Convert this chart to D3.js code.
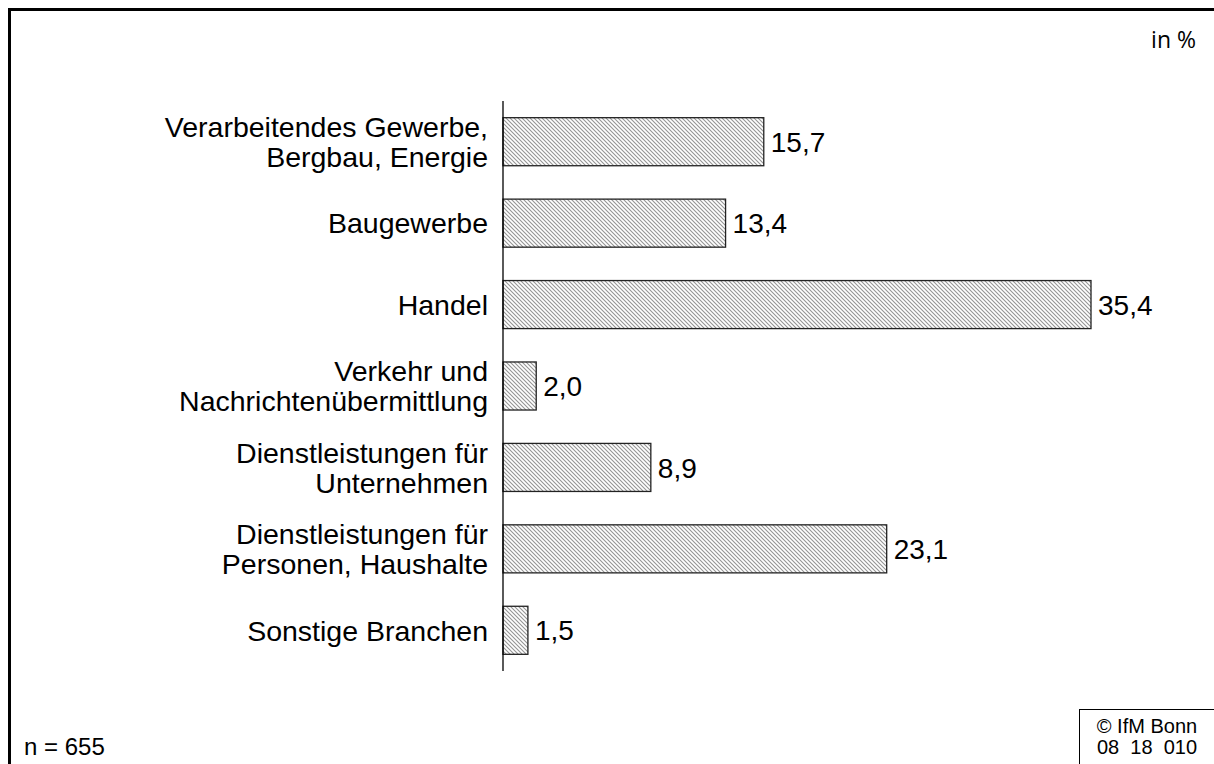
<!DOCTYPE html>
<html>
<head>
<meta charset="utf-8">
<script src="https://cdn.jsdelivr.net/npm/d3@7"></script>
<style>
    body { margin: 0; background: #fff; }
    svg text { font-family: "Liberation Sans", Arial, sans-serif; fill: #000; }
</style>
</head>
<body>
<div id="chart"></div>
<script>
// Branchen and shares (in %)
let categories = [
    ["Verarbeitendes Gewerbe,", "Bergbau, Energie"],
    ["Baugewerbe"],
    ["Handel"],
    ["Verkehr und", "Nachrichtenübermittlung"],
    ["Dienstleistungen für", "Unternehmen"],
    ["Dienstleistungen für", "Personen, Haushalte"],
    ["Sonstige Branchen"]
];
let values = [15.7, 13.4, 35.4, 2.0, 8.9, 23.1, 1.5];
let unitLabel = "in %";
let sampleLabel = "n = 655";
let sourceLines = ["© IfM Bonn", "08  18  010"];

function drawChart() {
    let width = 1214;
    let height = 764;

    let svg = d3.select("#chart")
        .append("svg")
        .attr("width", width)
        .attr("height", height);

    // hatch pattern
    let pat = svg.append("defs").append("pattern")
        .attr("id", "hatch")
        .attr("patternUnits", "userSpaceOnUse")
        .attr("width", 4)
        .attr("height", 4);
    pat.append("rect").attr("width", 4).attr("height", 4).attr("fill", "#fff");
    pat.append("path")
        .attr("d", "M-1,-1 L5,5 M-1,3 L1,5 M3,-1 L5,1")
        .attr("stroke", "#959595")
        .attr("stroke-width", 1.1);

    // outer frame (left and top)
    svg.append("path")
        .attr("d", "M9.5,764 V9.5 H1214")
        .attr("fill", "none")
        .attr("stroke", "#000")
        .attr("stroke-width", 3);

    let x = d3.scaleLinear()
        .domain([0, 35.4])
        .range([503, 1091]);

    let y = d3.scaleBand()
        .domain(d3.range(values.length))
        .range([101, 671])
        .paddingInner(0.41)
        .paddingOuter(0.205);

    // bars
    svg.selectAll(".bar")
        .data(values)
        .enter()
        .append("rect")
        .attr("class", "bar")
        .attr("x", x(0))
        .attr("y", function (d, i) { return y(i); })
        .attr("width", function (d) { return x(d) - x(0); })
        .attr("height", y.bandwidth())
        .attr("fill", "url(#hatch)")
        .attr("stroke", "#222")
        .attr("stroke-width", 1.3);

    // y axis line
    svg.append("line")
        .attr("x1", x(0)).attr("x2", x(0))
        .attr("y1", y.range()[0]).attr("y2", y.range()[1])
        .attr("stroke", "#000")
        .attr("stroke-width", 1.3);

    // value labels
    svg.selectAll(".val")
        .data(values)
        .enter()
        .append("text")
        .attr("class", "val")
        .attr("x", function (d) { return x(d) + 7; })
        .attr("y", function (d, i) { return y(i) + y.bandwidth() / 2; })
        .attr("dy", "0.36em")
        .style("font-size", "28px")
        .text(function (d) { return d.toFixed(1).replace(".", ","); });

    // category labels
    let lineH = 30;
    let labels = svg.selectAll(".cat")
        .data(categories)
        .enter()
        .append("text")
        .attr("class", "cat")
        .attr("text-anchor", "end")
        .style("font-size", "28.5px")
        .attr("transform", function (d, i) {
            let cy = y(i) + y.bandwidth() / 2;
            return "translate(488," + cy + ")";
        });
    labels.selectAll("tspan")
        .data(function (d) { return d; })
        .enter()
        .append("tspan")
        .attr("x", 0)
        .attr("y", function (d, j, nodes) {
            let n = nodes.length;
            return (j - (n - 1) / 2) * lineH;
        })
        .attr("dy", "0.36em")
        .text(function (d) { return d; });

    // unit
    svg.append("text")
        .attr("x", 1196)
        .attr("y", 48)
        .attr("text-anchor", "end")
        .style("font-family", "'Open Sans', sans-serif")
        .style("font-size", "23px")
        .text(unitLabel);

    // sample size
    svg.append("text")
        .attr("x", 24)
        .attr("y", 755)
        .style("font-size", "24px")
        .text(sampleLabel);

    // source box
    svg.append("rect")
        .attr("x", 1079.5)
        .attr("y", 709.5)
        .attr("width", 200)
        .attr("height", 80)
        .attr("fill", "none")
        .attr("stroke", "#000")
        .attr("stroke-width", 1);
    svg.selectAll(".src")
        .data(sourceLines)
        .enter()
        .append("text")
        .attr("class", "src")
        .attr("x", 1147)
        .attr("y", function (d, i) { return 733 + i * 21; })
        .attr("text-anchor", "middle")
        .style("font-size", "20px")
        .style("white-space", "pre")
        .attr("xml:space", "preserve")
        .text(function (d) { return d; });
}

drawChart();
</script>
</body>
</html>
